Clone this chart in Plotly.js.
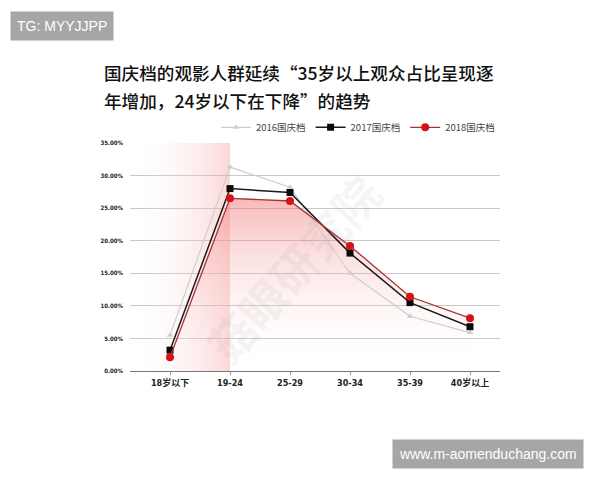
<!DOCTYPE html>
<html><head><meta charset="utf-8">
<script src="https://cdn.plot.ly/plotly-3.0.1.min.js"></script>
<style>html,body{margin:0;padding:0;background:#fff}#c{width:600px;height:480px}</style>
</head><body><div id="c"></div>
<script>
const categories = ['18岁以下','19-24','25-29','30-34','35-39','40岁以上'];
const s2016 = [5.5, 31.3, 28.2, 15.0, 8.4, 5.9];
const s2017 = [3.2, 28.0, 27.4, 18.1, 10.5, 6.8];
const s2018 = [2.1, 26.5, 26.1, 19.2, 11.4, 8.1];
const seriesNames = ['2016国庆档','2017国庆档','2018国庆档'];
const yTicks = [0,5,10,15,20,25,30,35];
const yTickText = yTicks.map(v => v.toFixed(2) + '%');
const xIdx = categories.map((_, i) => i);
const titleLines = ['国庆档的观影人群延续“35岁以上观众占比呈现逐', '年增加，24岁以下在下降”的趋势'];

const bandX = [-0.667, 1, 1, -0.667, -0.667];
const bandY = [0, 0, 35, 35, 0];

const traces = [
  {x: bandX, y: bandY, type:'scatter', mode:'none', fill:'toself', showlegend:false, hoverinfo:'skip',
   fillgradient:{type:'horizontal', colorscale:[[0,'rgba(255,255,255,0)'],[1,'rgba(245,160,160,0.42)']]}},
  {x: xIdx, y: s2018, type:'scatter', mode:'none', fill:'tozeroy', showlegend:false, hoverinfo:'skip',
   fillgradient:{type:'vertical', colorscale:[[0,'rgba(255,255,255,0)'],[1,'rgba(240,100,100,0.45)']]}},
  {x: xIdx, y: s2016, name: seriesNames[0], type:'scatter', mode:'lines+markers',
   line:{color:'#cfcfcf', width:1.2}, marker:{symbol:'triangle-up', size:6, color:'#cfcfcf'}},
  {x: xIdx, y: s2017, name: seriesNames[1], type:'scatter', mode:'lines+markers',
   line:{color:'#1a1a1a', width:1.5}, marker:{symbol:'square', size:7, color:'#0a0a0a'}},
  {x: xIdx, y: s2018, name: seriesNames[2], type:'scatter', mode:'lines+markers',
   line:{color:'#a83232', width:1.3}, marker:{symbol:'circle', size:8, color:'#d41414'}}
];

const layout = {
  width:600, height:480,
  margin:{l:130, r:100, t:142.5, b:108.7},
  paper_bgcolor:'#fff', plot_bgcolor:'rgba(0,0,0,0)',
  showlegend:true,
  legend:{orientation:'h', x:1.0, xanchor:'right', y:1.005, yanchor:'bottom',
    font:{family:'Noto Sans CJK SC, sans-serif', size:9.5, color:'#444'}, tracegroupgap:0},
  xaxis:{range:[-0.667, 5.5], tickvals:xIdx, ticktext:categories.map(c => '<b>' + c + '</b>'), showgrid:false, zeroline:false,
    showline:true, linecolor:'#777', linewidth:1, ticks:'outside', ticklen:3, tickcolor:'#999',
    tickfont:{family:'DejaVu Sans Condensed, Noto Sans CJK SC', size:9, color:'#222'}, fixedrange:true},
  yaxis:{range:[0,35], tickvals:yTicks, ticktext:yTickText.map(t => '<b>' + t + '</b>'), showgrid:true, gridcolor:'#c8c8c8', gridwidth:1,
    zeroline:false, tickfont:{family:'DejaVu Sans Condensed', size:6, color:'#222'}, ticks:'', ticklabelstandoff:6},
  annotations:[
    {xref:'paper', yref:'paper', x:-0.075, y:(142.5-72)/228.8 + 1, xanchor:'left', yanchor:'middle', align:'left', showarrow:false,
     text:titleLines[0], font:{family:'Noto Sans CJK SC', size:17.6, color:'#111', weight:500}},
    {xref:'paper', yref:'paper', x:-0.075, y:(142.5-100)/228.8 + 1, xanchor:'left', yanchor:'middle', align:'left', showarrow:false,
     text:titleLines[1], font:{family:'Noto Sans CJK SC', size:17.6, color:'#111', weight:500}},
    {xref:'paper', yref:'paper', x:0.44, y:0.45, showarrow:false, textangle:-48,
     text:'<b>菇眼研究院</b>', font:{family:'Noto Sans CJK SC', size:46, color:'rgba(150,150,150,0.1)'}},
    {xref:'paper', yref:'paper', x:-0.324, y:1.512, xanchor:'left', yanchor:'middle', showarrow:false,
     text:'TG: MYYJJPP', bgcolor:'#a6a6a6', borderpad:6,
     font:{family:'Liberation Sans, Arial', size:14, color:'#fff'}},
    {xref:'paper', yref:'paper', x:1.227, y:-0.366, xanchor:'right', yanchor:'middle', showarrow:false,
     text:'www.m-aomenduchang.com', bgcolor:'#a6a6a6', borderpad:6,
     font:{family:'Liberation Sans, Arial', size:14, color:'#fff'}}
  ]
};
Plotly.newPlot('c', traces, layout, {displayModeBar:false, staticPlot:true});
</script></body></html>
